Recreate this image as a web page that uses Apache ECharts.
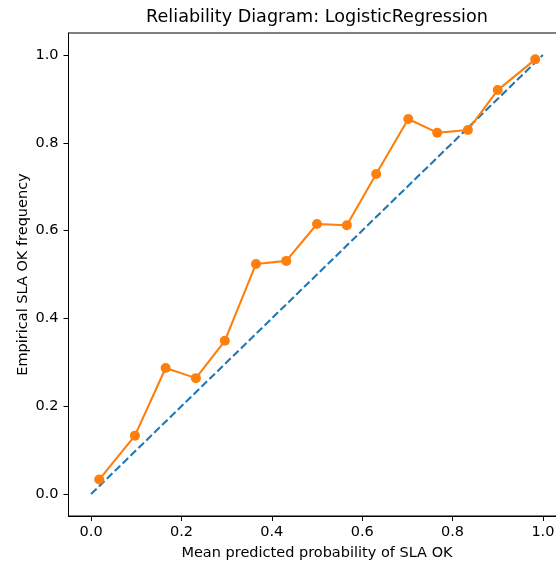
<!DOCTYPE html>
<html>
<head>
<meta charset="utf-8">
<script src="https://cdn.jsdelivr.net/npm/echarts@6/dist/echarts.min.js"></script>
<style>
html, body { margin: 0; padding: 0; background: #fff; }
#main { width: 556px; height: 563px; }
</style>
</head>
<body>
<div id="main"></div>
<script>
// mean predicted probability per bin
var meanPred = [0.018, 0.097, 0.165, 0.232, 0.296, 0.365, 0.432, 0.500, 0.566, 0.631, 0.702, 0.766, 0.834, 0.900, 0.983];
// empirical SLA OK frequency per bin
var fracPos = [0.033, 0.133, 0.287, 0.264, 0.349, 0.524, 0.531, 0.615, 0.612, 0.729, 0.854, 0.823, 0.829, 0.920, 0.990];
// perfectly calibrated reference
var diagX = [0, 1];
var diagY = [0, 1];
// tick labels
var xTicks = [0, 0.2, 0.4, 0.6, 0.8, 1.0];
var yTicks = [0, 0.2, 0.4, 0.6, 0.8, 1.0];

var FONT = "'DejaVu Sans', sans-serif";

function pairs(xs, ys) {
	var out = [];
	for (var i = 0; i < xs.length; i++) {
		out.push([xs[i], ys[i]]);
	}
	return out;
}

var chart = echarts.init(document.getElementById("main"), null, { renderer: "canvas" });
var option = {
	animation: false,
	backgroundColor: "#ffffff",
	title: {
		text: "Reliability Diagram: LogisticRegression",
		left: 317,
		textAlign: "center",
		top: 8,
		padding: 0,
		textStyle: { fontFamily: FONT, fontSize: 17.6, fontWeight: "normal", color: "#000" }
	},
	grid: {
		left: 68.5,
		top: 33,
		width: 497,
		height: 483,
		outerBoundsMode: "none",
		containLabel: false,
		show: true,
		borderColor: "#000",
		borderWidth: 1,
		backgroundColor: "transparent"
	},
	xAxis: {
		type: "value",
		min: -0.05,
		max: 1.05,
		name: "Mean predicted probability of SLA OK",
		nameLocation: "middle",
		nameGap: 30,
		nameMoveOverlap: false,
		nameTextStyle: { fontFamily: FONT, fontSize: 14.5, color: "#000" },
		axisLine: { show: true, onZero: false, lineStyle: { color: "#000", width: 1 } },
		axisTick: { show: true, inside: false, length: 5, customValues: xTicks, lineStyle: { color: "#000" } },
		axisLabel: {
			customValues: xTicks,
			margin: 9,
			fontFamily: FONT,
			fontSize: 14.5,
			color: "#000",
			formatter: function (v) { return v.toFixed(1); }
		},
		splitLine: { show: false }
	},
	yAxis: {
		type: "value",
		min: -0.05,
		max: 1.05,
		name: "Empirical SLA OK frequency",
		nameLocation: "middle",
		nameGap: 38,
		nameMoveOverlap: false,
		nameTextStyle: { fontFamily: FONT, fontSize: 14.5, color: "#000" },
		axisLine: { show: true, onZero: false, lineStyle: { color: "#000", width: 1 } },
		axisTick: { show: true, inside: false, length: 5, customValues: yTicks, lineStyle: { color: "#000" } },
		axisLabel: {
			customValues: yTicks,
			margin: 10,
			fontFamily: FONT,
			fontSize: 14.5,
			color: "#000",
			formatter: function (v) { return v.toFixed(1); }
		},
		splitLine: { show: false }
	},
	series: [{
		name: "Perfectly calibrated",
		type: "line",
		data: pairs(diagX, diagY),
		showSymbol: false,
		symbol: "none",
		lineStyle: { color: "#1f77b4", width: 2.1, type: [7.7, 3.3] },
		z: 2
	}, {
		name: "LogisticRegression",
		type: "line",
		data: pairs(meanPred, fracPos),
		symbol: "circle",
		symbolSize: 10,
		itemStyle: { color: "#ff7f0e" },
		lineStyle: { color: "#ff7f0e", width: 2.1 },
		z: 3
	}]
};
chart.setOption(option);
</script>
</body>
</html>
